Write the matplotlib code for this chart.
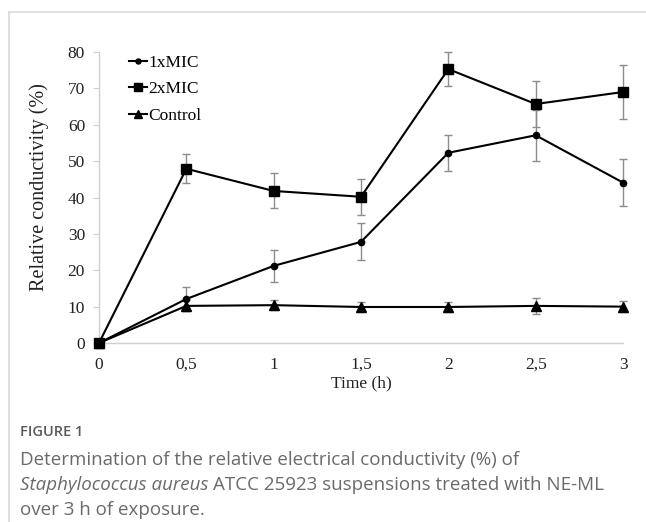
import matplotlib.pyplot as plt
from matplotlib.lines import Line2D

# data
time_h = [0, 0.5, 1, 1.5, 2, 2.5, 3]
tick_labels = ["0", "0,5", "1", "1,5", "2", "2,5", "3"]

mic1 = [0, 12.1, 21.2, 27.8, 52.3, 57.1, 44.1]
mic1_err = [0, 3.3, 4.5, 5.1, 5.0, 7.0, 6.5]

mic2 = [0, 47.9, 41.8, 40.2, 75.3, 65.7, 69.0]
mic2_err = [0, 4.0, 4.8, 5.0, 4.7, 6.3, 7.4]

control = [0, 10.2, 10.4, 9.9, 9.9, 10.2, 10.0]
control_err = [0, 1.5, 1.4, 1.5, 1.5, 2.3, 1.6]

serif = ["Liberation Serif", "DejaVu Serif"]

fig = plt.figure(figsize=(6.46, 5.22), dpi=100)

# card border (top and left)
border = "#d9d9d9"
fig.add_artist(Line2D([9 / 646, 1], [1 - 12 / 522, 1 - 12 / 522], color=border, lw=1.2))
fig.add_artist(Line2D([9 / 646, 9 / 646], [0, 1 - 12 / 522], color=border, lw=1.2))

ax = fig.add_axes([99 / 646, 1 - 343 / 522, 524 / 646, 291 / 522])

series = [
    (mic1, mic1_err, "o", 4.5, "1xMIC"),
    (mic2, mic2_err, "s", 7, "2xMIC"),
    (control, control_err, "^", 7, "Control"),
]
for vals, err, mk, ms, name in series:
    ax.errorbar(time_h, vals, yerr=err, color="black", lw=1.5, marker=mk, ms=ms,
                ecolor="#8c8c8c", elinewidth=1, capsize=3, capthick=1,
                label=name, clip_on=False, zorder=3)

ax.set_xlim(0, 3)
ax.set_ylim(0, 80)
ax.set_xticks(time_h)
ax.set_xticklabels(tick_labels)
ax.set_yticks(range(0, 81, 10))

for side in ["top", "right"]:
    ax.spines[side].set_visible(False)
for side in ["left", "bottom"]:
    ax.spines[side].set_color("#d0d0d0")
    ax.spines[side].set_linewidth(1)
ax.tick_params(axis="y", length=4, color="#d0d0d0", pad=6)
ax.tick_params(axis="x", length=0, pad=10)
for lab in ax.get_xticklabels() + ax.get_yticklabels():
    lab.set_family(serif)
    lab.set_fontsize(12.5)
    lab.set_color("#222222")

ax.set_xlabel("Time (h)", family=serif, fontsize=12.5, color="#222222", labelpad=2)
ax.set_ylabel("Relative conductivity (%)", family=serif, fontsize=14.5, color="#222222")
ax.yaxis.set_label_coords(-0.095, 0.535)

handles = [Line2D([], [], color="black", lw=1.5, marker=m, ms=s * 0.8) for _, _, m, s, _ in series]
ax.legend(handles, [s[4] for s in series], loc="upper left", bbox_to_anchor=(0.028, 1.045),
          frameon=False, handlelength=1.0, handletextpad=0.1, labelspacing=0.6,
          prop={"family": serif, "size": 12.5})

# caption
cap_color = "#6a6a6a"
cap_font = "Open Sans"
cap_size = 13.5
fig.text(20 / 646, 1 - 432 / 522, "FIGURE 1", family=cap_font, fontsize=10.5,
         weight="semibold", color="#5a5a5a", va="center")
fig.text(20 / 646, 1 - 460 / 522,
         "Determination of the relative electrical conductivity (%) of",
         family=cap_font, fontsize=cap_size, color=cap_color, va="center")
it = fig.text(20 / 646, 1 - 485 / 522, "Staphylococcus aureus", style="italic",
              family=cap_font, fontsize=cap_size, color=cap_color, va="center")
renderer = fig.canvas.get_renderer()
bb = it.get_window_extent(renderer)
fig.text((bb.x1 + 4) / 646, 1 - 485 / 522,
         "ATCC 25923 suspensions treated with NE-ML",
         family=cap_font, fontsize=cap_size, color=cap_color, va="center")
fig.text(20 / 646, 1 - 510 / 522, "over 3 h of exposure.",
         family=cap_font, fontsize=cap_size, color=cap_color, va="center")

fig.savefig("out.png", dpi=100)
